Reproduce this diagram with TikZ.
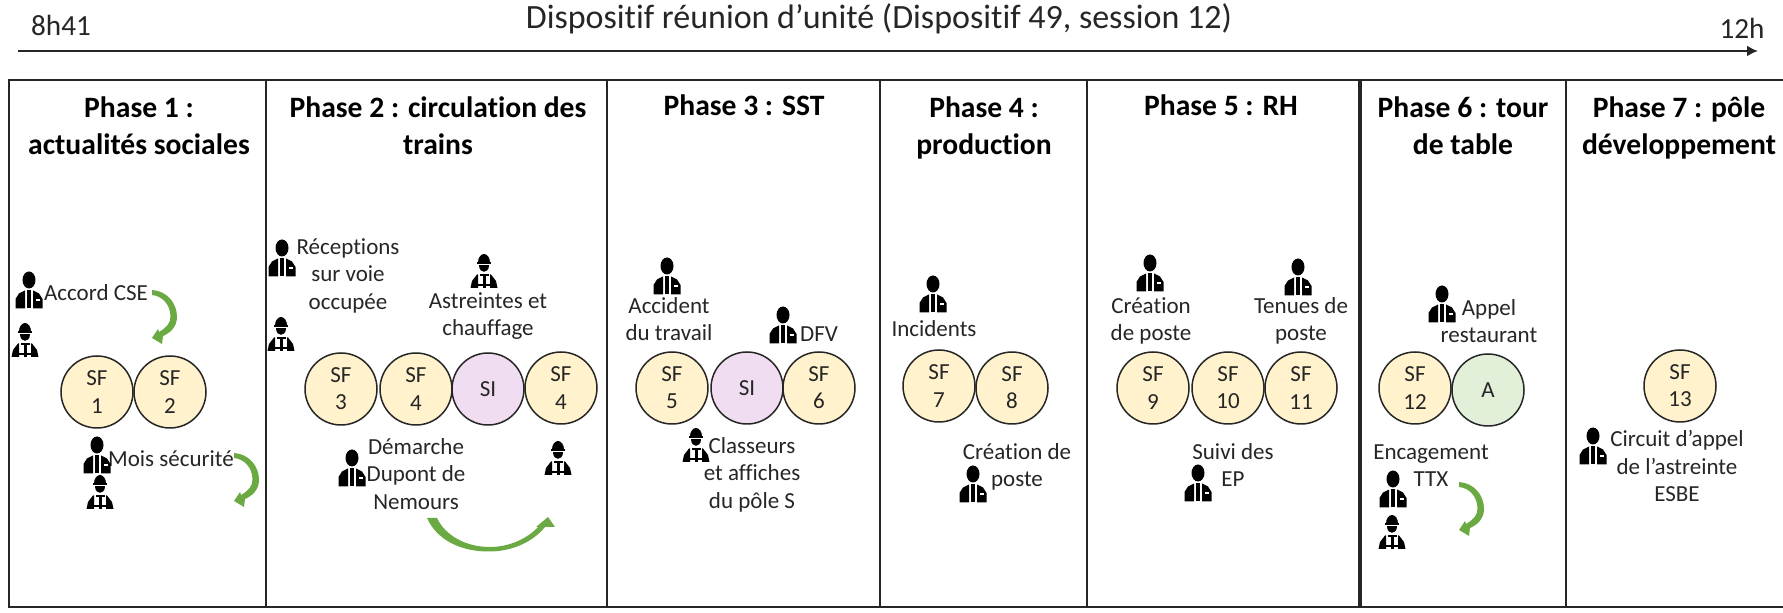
\documentclass[tikz,border=0pt]{standalone}
\usepackage{fontspec}
\setmainfont[Ligatures=NoCommon]{Carlito}
\usetikzlibrary{arrows.meta}
\definecolor{sfyellow}{HTML}{FFF2CC}
\definecolor{sipurple}{HTML}{F0DDF1}
\definecolor{agreen}{HTML}{E2F0D9}
\definecolor{bendgreen}{HTML}{6BAA42}
\definecolor{inkgrey}{HTML}{262626}
\tikzstyle{vertex}=[circle,draw=inkgrey,line width=0.75pt,minimum size=36pt,inner sep=0pt,align=center,font=\fontsize{11.5}{13.6}\selectfont,text=inkgrey]
\tikzstyle{note}=[align=center,font=\fontsize{11.5}{13.6}\selectfont,text=inkgrey,inner sep=0pt,yshift=-1.5pt,execute at begin node=\strut,execute at end node=\strut]
\tikzstyle{phasetitle}=[align=center,font=\fontsize{14.8}{18.5}\selectfont\bfseries,inner sep=0pt,execute at begin node=\strut,execute at end node=\strut]
\tikzstyle{toptext}=[font=\fontsize{14.6}{18}\selectfont,text=inkgrey,inner sep=0pt]
\tikzstyle{bendarrow}=[fill=bendgreen,draw=none]
\tikzset{
  manager/.pic={
    \fill[black] (0,-10) ellipse (6.5 and 8.5);
    \fill[black] (-13.5,18.5) -- (-13.5,9) -- (-10,3.5) -- (-4,0.5) -- (-4,18.5) -- cycle;
    \fill[black] (4,18.5) -- (4,0.5) -- (10,3.5) -- (13.5,9) -- (13.5,18.5) -- cycle;
    \fill[black] (-1.6,0.5) -- (1.6,0.5) -- (1.6,18.5) -- (-1.6,18.5) -- cycle;
    \fill[white] (6.5,9.5) rectangle (10.5,11);
  },
  worker/.pic={
    \fill[black] (-6,-8.5) arc[start angle=180,end angle=360,x radius=6,y radius=8.5] -- cycle;
    \fill[black] (-7,-8.5) rectangle (7,-7);
    \fill[black] (-5,-5.8) -- (5,-5.8) .. controls (5,-1) and (2,0.8) .. (0,0.8) .. controls (-2,0.8) and (-5,-1) .. (-5,-5.8) -- cycle;
    \fill[black] (-13.5,17) -- (-12,10) -- (-7,3.5) -- (-6,3.5) -- (-6,17) -- cycle;
    \fill[black] (13.5,17) -- (12,10) -- (7,3.5) -- (6,3.5) -- (6,17) -- cycle;
    \fill[black] (-4.5,3) rectangle (4.5,4.8);
    \fill[black] (-1.5,3) rectangle (1.5,17);
    \fill[black] (-6,13) rectangle (6,15);
  },
  bend/.pic={
    \path[bendarrow] (0,0) .. controls (15,1) and (25,13) .. (25,27) .. controls (25,37) and (18,43) .. (11,46)
      -- (10,54) -- (0,48) -- (6,39) -- (7,42) .. controls (14,38) and (19,33) .. (18.5,26) .. controls (18,14) and (10,6) .. (0,5) -- cycle;
  }
}

\begin{document}
\begin{tikzpicture}[x=0.5pt,y=-0.5pt]
    \useasboundingbox (0,0) rectangle (1783,613);

    % time line
    \coordinate (start) at (18,51);
    \coordinate (end) at (1758,51);
    \draw[line width=1pt,color=inkgrey,-{Latex[length=5.5pt,width=5.5pt]}] (start) -- (end);
    \node[toptext] (begin) at (61,25) {8h41};
    \node[toptext] (finish) at (1742,28) {12h};
    \node[toptext,font=\fontsize{17}{20}\selectfont] (title) at (879,19) {Dispositif réunion d’unité (Dispositif 49, session 12)};

    % frame and phases
    \draw[line width=1pt,color=inkgrey] (1783,80) -- (9,80) -- (9,607) -- (1783,607);
    \foreach \x/\w in {266/1.3pt, 607/0.8pt, 880/1.3pt, 1087/0.8pt, 1360/1.8pt, 1566/0.8pt}
        \draw[line width=\w,color=inkgrey] (\x,80) -- (\x,607);

    \foreach \pos/\name/\txt in {{(139,131)/ph1/{Phase 1 :\\actualités sociales}},
        {(438,131)/ph2/{Phase 2 : circulation des\\trains}}, {(744,108)/ph3/{Phase 3 : SST}},
        {(984,131)/ph4/{Phase 4 :\\production}}, {(1221,108)/ph5/{Phase 5 : RH}},
        {(1463,131)/ph6/{Phase 6 : tour\\de table}}, {(1679,131)/ph7/{Phase 7 : pôle\\développement}}}
        \node[phasetitle] (\name) at \pos {\txt};

    % sequences
    \foreach \pos/\name/\txt in {{(97,392)/sf1/{SF\\1}}, {(170,392)/sf2/{SF\\2}}, {(341,389)/sf3/{SF\\3}},
        {(416,389)/sf4/{SF\\4}}, {(561,388)/sfb/{SF\\4}}, {(672,388)/sf5/{SF\\5}}, {(819,388)/sf6/{SF\\6}},
        {(939,386)/sf7/{SF\\7}}, {(1012,388)/sf8/{SF\\8}}, {(1153,388)/sf9/{SF\\9}}, {(1228,388)/sf10/{SF\\10}},
        {(1301,388)/sf11/{SF\\11}}, {(1415,388)/sf12/{SF\\12}}, {(1680,386)/sf13/{SF\\13}}}
        \node[vertex,fill=sfyellow] (\name) at \pos {\txt};
    \foreach \pos/\name in {{(488,389)/si1}, {(747,388)/si2}}
        \node[vertex,fill=sipurple] (\name) at \pos {SI};
    \node[vertex,fill=agreen] (a) at (1488,390) {A};

    % labels
    \foreach \pos/\name/\txt in {{(96,292)/accord/{Accord CSE}}, {(171,458)/mois/{Mois sécurité}},
        {(348,275)/recept/{Réceptions\\sur voie\\occupée}}, {(488,315)/astr/{Astreintes et\\chauffage}},
        {(416,475)/dem/{Démarche\\Dupont de\\Nemours}}, {(669,320)/acc/{Accident\\du travail}},
        {(819,333)/dfv/{DFV}}, {(752,474)/class/{Classeurs\\et affiches\\du pôle S}},
        {(934,328)/incid/{Incidents}}, {(1017,466)/crea/{Création de\\poste}},
        {(1151,320)/creb/{Création\\de poste}}, {(1301,320)/tenue/{Tenues de\\poste}},
        {(1233,466)/suivi/{Suivi des\\EP}}, {(1489,322)/appel/{Appel\\restaurant}},
        {(1431,467)/enc/{Encagement\\TTX}}, {(1677,467)/circ/{Circuit d’appel\\de l’astreinte\\ESBE}}}
        \node[note] (\name) at \pos {\txt};

    % people
    \foreach \pos in {{(29,290)}, {(97,455)}, {(282,258)}, {(352,468)}, {(667,276)}, {(783,325)}, {(933,294)},
        {(973,484)}, {(1150,273)}, {(1298,277)}, {(1198,483)}, {(1393,489)}, {(1442,304)}, {(1593,446)}}
        \pic at \pos {manager};
    \foreach \pos in {{(25,340)}, {(100,492)}, {(281,334)}, {(484,271)}, {(558,458)}, {(696,445)}, {(1392,532)}}
        \pic at \pos {worker};

    % green arrows
    \foreach \pos in {{(152,290)}, {(234,453)}, {(1459,482)}}
        \pic at \pos {bend};
    \path[bendarrow] (427,518) -- (437,518) .. controls (445,535) and (465,547) .. (490,547) .. controls (510,547) and (528,538) .. (538,527)
        -- (536,527) -- (548,517) -- (555,527) -- (545,527) .. controls (532,543) and (510,552) .. (487,551.5) .. controls (460,551) and (437,540) .. (427,518) -- cycle;
\end{tikzpicture}
\end{document}
